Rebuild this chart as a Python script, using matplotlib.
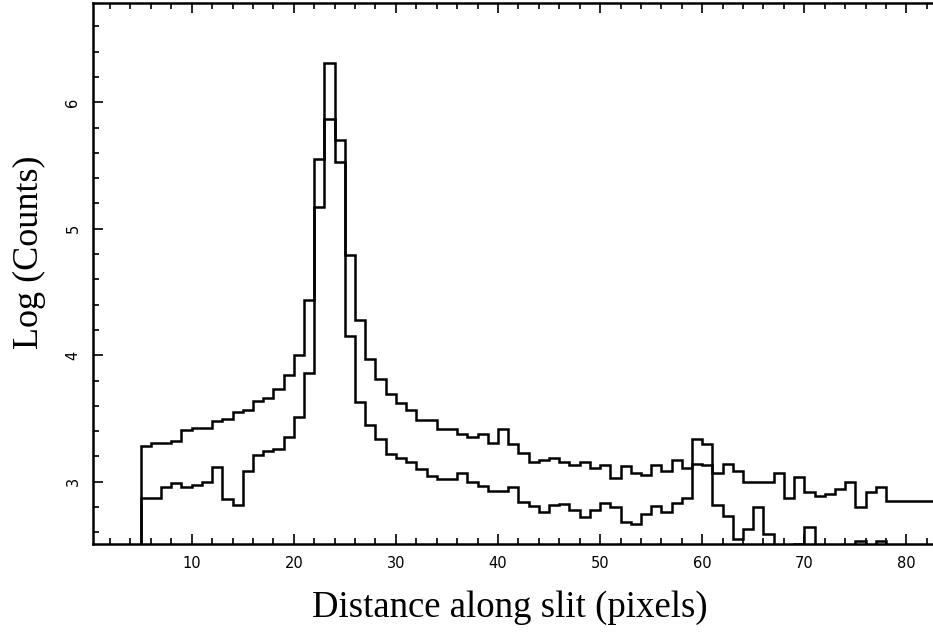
import numpy as np
import matplotlib
matplotlib.use('Agg')
import matplotlib.pyplot as plt
from matplotlib.ticker import MultipleLocator

# Bin edges: unit-width pixels starting at 5
upper_start = 5
upper_counts = [
    3.28, 3.31, 3.31, 3.325, 3.41, 3.425, 3.425, 3.48, 3.50, 3.55,      # 5-14
    3.57, 3.64, 3.66, 3.73, 3.845, 4.00, 4.44, 5.55, 6.31, 5.70,        # 15-24
    4.79, 4.28, 3.97, 3.815, 3.69, 3.625, 3.57, 3.49, 3.49, 3.42,       # 25-34
    3.42, 3.38, 3.35, 3.38, 3.31, 3.42, 3.30, 3.225, 3.155, 3.17,       # 35-44
    3.19, 3.16, 3.13, 3.155, 3.11, 3.13, 3.03, 3.125, 3.07, 3.05,       # 45-54
    3.13, 3.085, 3.17, 3.11, 3.14, 3.13, 3.07, 3.14, 3.085, 3.00,       # 55-64
    3.00, 3.00, 3.07, 2.87, 3.04, 2.92, 2.89, 2.90, 2.94, 3.00,         # 65-74
    2.80, 2.92, 2.955, 2.85, 2.85, 2.85, 2.85, 2.85, 2.85, 2.85,        # 75-84
]

lower_start = 5
lower_counts = [
    2.87, 2.87, 2.96, 2.99, 2.96, 2.975, 3.00, 3.12, 2.86, 2.82,        # 5-14
    3.085, 3.21, 3.245, 3.26, 3.35, 3.51, 3.86, 5.17, 5.87, 5.53,       # 15-24
    4.15, 3.63, 3.45, 3.34, 3.22, 3.19, 3.155, 3.10, 3.045, 3.02,       # 25-34
    3.02, 3.07, 3.00, 2.97, 2.93, 2.93, 2.96, 2.84, 2.81, 2.76,         # 35-44
    2.82, 2.825, 2.78, 2.72, 2.78, 2.83, 2.80, 2.685, 2.665, 2.745,     # 45-54
    2.81, 2.76, 2.83, 2.875, 3.336, 3.30, 2.82, 2.73, 2.55, 2.63,       # 55-64
    2.80, 2.59, 2.30, 2.30, 2.51, 2.645, 2.30, 2.30, 2.30, 2.30,        # 65-74
    2.535, 2.30, 2.535,                                                 # 75-77
]

fig = plt.figure(figsize=(9.33, 6.36), dpi=100)
# right edge of the box falls outside the picture, as in the original
ax = fig.add_axes([93 / 933, 92 / 636, (940 - 93) / 933, 541 / 636])

for start, counts in [(upper_start, upper_counts), (lower_start, lower_counts)]:
    edges = np.arange(start, start + len(counts) + 1)
    ax.stairs(counts, edges, baseline=2.0, color='black', linewidth=1.8)

ax.set_xlim(0.333, 83.29)
ax.set_ylim(2.508, 6.785)

ax.xaxis.set_major_locator(MultipleLocator(10))
ax.xaxis.set_minor_locator(MultipleLocator(2))
ax.yaxis.set_major_locator(MultipleLocator(1))
ax.yaxis.set_minor_locator(MultipleLocator(0.2))

ax.tick_params(which='both', direction='in', top=True, right=False, width=1.2)
ax.tick_params(which='major', length=7.5)
ax.tick_params(which='minor', length=4.5)
ax.tick_params(axis='x', labelsize=10.5, pad=9)
ax.tick_params(axis='y', labelsize=10.5, pad=9, labelrotation=90)
for lab in ax.get_yticklabels():
    lab.set_verticalalignment('center')

for s in ['left', 'bottom', 'top']:
    ax.spines[s].set_linewidth(1.8)

ax.set_xlabel('Distance along slit (pixels)', family='Liberation Serif',
              fontsize=26.5, va='center')
ax.xaxis.set_label_coords(0.492, -0.118)
ax.set_ylabel('Log (Counts)', family='Liberation Serif', fontsize=26,
              va='center')
ax.yaxis.set_label_coords(-0.075, 0.54)

fig.savefig('out.png', dpi=100)
